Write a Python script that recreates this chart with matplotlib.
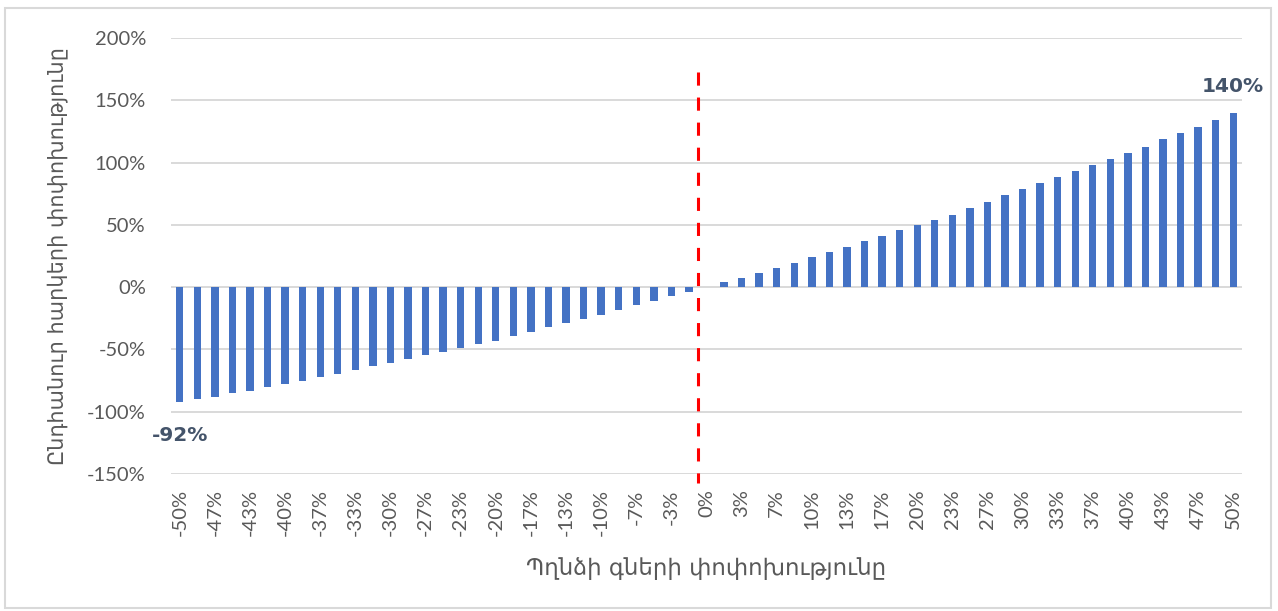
import matplotlib
matplotlib.use("Agg")
import matplotlib.pyplot as plt
from matplotlib.patches import Rectangle
import matplotlib.transforms as mtransforms

plt.rcParams["font.family"] = ["DejaVu Sans"]

# Copper price change (every other category is labelled)
tick_labels = ["-50%", "-47%", "-43%", "-40%", "-37%", "-33%", "-30%", "-27%",
               "-23%", "-20%", "-17%", "-13%", "-10%", "-7%", "-3%", "0%",
               "3%", "7%", "10%", "13%", "17%", "20%", "23%", "27%", "30%",
               "33%", "37%", "40%", "43%", "47%", "50%"]

# Change in total taxes, % (one value per 1.67 p.p. step of copper price)
tax_change = [-92, -90, -88, -85, -83, -80, -77.5, -75, -72, -69.5,
              -66.5, -63.5, -60.5, -57.5, -54.5, -51.7, -49, -46, -43, -39,
              -36, -32, -29, -25.5, -22, -18.5, -14.5, -11.5, -7.5, -3.8,
              0, 3.8, 7.5, 11.5, 15.5, 19.5, 24, 28, 32, 36.8,
              40.7, 45.5, 49.5, 54.3, 58.3, 63.7, 68.3, 73.8, 78.8, 83.4,
              88.5, 93.3, 98.1, 102.9, 108, 112.8, 118.7, 123.8, 128.6, 134.2,
              140]

y_ticks = [-150, -100, -50, 0, 50, 100, 150, 200]
y_tick_labels = ["-150%", "-100%", "-50%", "0%", "50%", "100%", "150%", "200%"]
baseline_split = 29.5  # boundary between price falls and rises

bar_color = "#4472C4"
grid_color = "#D9D9D9"
text_color = "#595959"
label_color = "#44546A"

fig = plt.figure(figsize=(12.78, 6.11), dpi=100)
fig.patch.set_facecolor("white")
fig.add_artist(Rectangle((5 / 1278, 3 / 611), 1266 / 1278, 600 / 611,
                         transform=fig.transFigure, fill=False,
                         edgecolor=grid_color, linewidth=1.5))

ax = fig.add_axes([171 / 1278, 137 / 611, 1071 / 1278, 436 / 611])
positions = list(range(len(tax_change)))
ax.bar(positions, tax_change, width=0.42, color=bar_color, zorder=2)

ax.set_xlim(-0.5, len(tax_change) - 0.5)
ax.set_ylim(y_ticks[0], y_ticks[-1])
ax.set_yticks(y_ticks)
ax.set_yticklabels(y_tick_labels, family="Lato")
ax.set_xticks(positions[::2])
ax.set_xticklabels(tick_labels, rotation=90, family="Lato")

ax.grid(axis="y", color=grid_color, linewidth=1.4)
ax.set_axisbelow(True)
for s in ax.spines.values():
    s.set_visible(False)
ax.tick_params(axis="both", length=0, labelsize=14.5, labelcolor=text_color)
ax.tick_params(axis="y", pad=18)
ax.tick_params(axis="x", pad=11)

ax.set_ylabel("Ընդհանուր հարկերի փոփոխությունը", fontsize=15,
              color=text_color, labelpad=14)
ax.set_xlabel("Պղնձի գների փոփոխությունը", fontsize=16.5,
              color=text_color, labelpad=15)

# dashed separator between negative and positive price changes
trans = mtransforms.blended_transform_factory(ax.transData, ax.transAxes)
ax.plot([baseline_split, baseline_split], [0.922, -0.02], transform=trans,
        color="#FF0000", linewidth=2.2, linestyle=(0, (4.3, 3.9)),
        clip_on=False, zorder=3)

# end-point value labels
ax.annotate(f"{tax_change[0]:.0f}%", (positions[0], tax_change[0]),
            xytext=(0, -24), textcoords="offset points", ha="center",
            va="center", fontsize=14.5, fontweight="bold", color=label_color)
ax.annotate(f"{tax_change[-1]:.0f}%", (positions[-1], tax_change[-1]),
            xytext=(0, 19), textcoords="offset points", ha="center",
            va="center", fontsize=14.5, fontweight="bold", color=label_color)

fig.savefig("out.png", dpi=100)
